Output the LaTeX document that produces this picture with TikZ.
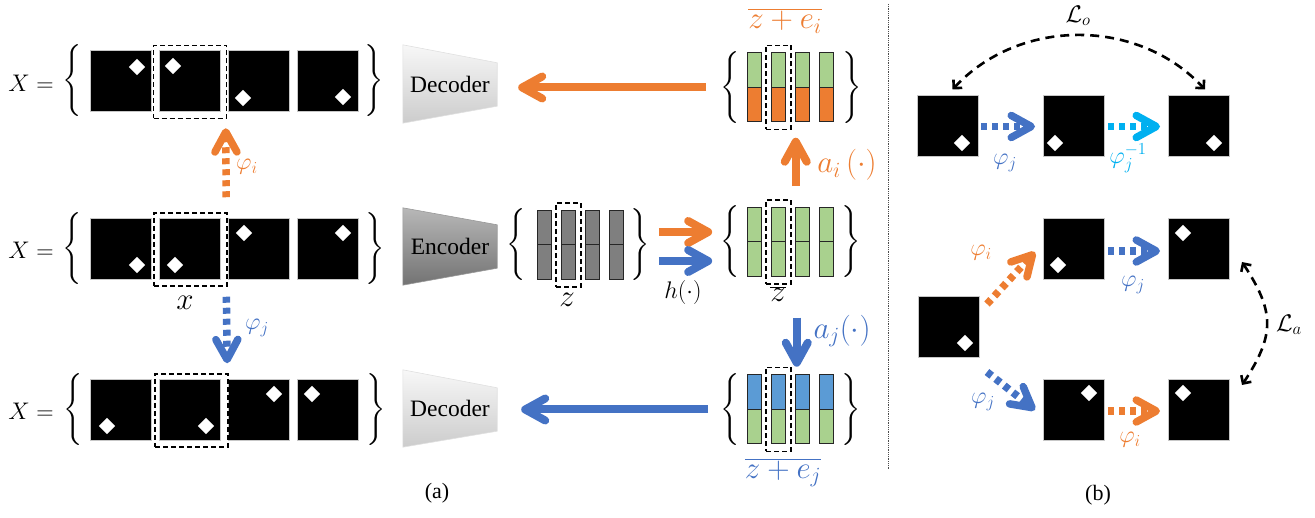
\RequirePackage{fix-cm}
\documentclass[tikz,border=0pt]{standalone}
\usepackage{graphicx}
\usepackage[no-math]{fontspec}
\newfontfamily\tnr{Liberation Serif}
\usetikzlibrary{arrows.meta,backgrounds}
\definecolor{corange}{HTML}{ED7D31}
\definecolor{cblue}{HTML}{4472C4}
\definecolor{ccyan}{HTML}{00B0F0}
\definecolor{cgreen}{HTML}{A9D18E}
\definecolor{cbarblue}{HTML}{5B9BD5}
\definecolor{cgraybar}{HTML}{7F7F7F}
\newcommand\fsm{\fontsize{24}{28}\selectfont}
\newcommand\fbg{\fontsize{31}{36}\selectfont}
\newcommand\mylbrace{\scalebox{2.4}{$\Bigg\{$}}
\newcommand\myrbrace{\scalebox{2.4}{$\Bigg\}$}}
\tikzset{
  img/.style={fill=black, draw=black!22, line width=1pt, minimum width=61pt, minimum height=61pt, inner sep=0pt},
  dia/.style={fill=white, minimum size=11.5pt, inner sep=0pt, rotate=45},
  sel/.style={draw=black, line width=1.5pt, dash pattern=on 5pt off 3pt, inner sep=0pt},
  selimg/.style={sel, minimum width=73pt, minimum height=73pt},
  selbar/.style={sel, minimum width=25pt, minimum height=84pt},
  bar/.style={draw=black!85, line width=1pt, minimum width=14pt, minimum height=34.5pt, inner sep=0pt, outer sep=0pt},
  brace/.style={inner sep=0pt, font=\normalsize},
  lbl/.style={inner sep=0pt, font=\fsm},
  lblbig/.style={inner sep=0pt, font=\fbg},
  coder/.style={inner sep=0pt, minimum width=94pt, font=\tnr\fontsize{23.5}{28}\selectfont},
  caption/.style={inner sep=0pt, font=\tnr\fontsize{22}{26}\selectfont},
  bigarrow/.style={line width=8pt, -{Straight Barb[length=20pt,width=22pt,round]}},
  dotarrow/.style={line width=7.5pt, dash pattern=on 6pt off 5pt, -{Straight Barb[length=20pt,width=22pt,round]}},
  lossarrow/.style={line width=2.6pt, dash pattern=on 9pt off 6pt, {Straight Barb[length=6pt,width=12pt]}-{Straight Barb[length=6pt,width=12pt]}},
}
\newcommand\latentgrp[5]{%
  \foreach \k/\dx in {1/-36,2/-12,3/12,4/36}{
    \node[bar, fill=#4, anchor=south] (#1t\k) at ({#2+\dx},{#3}) {};
    \node[bar, fill=#5, anchor=north] (#1b\k) at ({#2+\dx},{#3}) {};
  }
  \node[selbar] (#1sel) at ({#2-12},{#3}) {};
}
\begin{document}
\begin{tikzpicture}[x=1pt,y=-1pt]
\useasboundingbox (0,0) rectangle (1315,518);

% ---------- row 1 ----------
\node[lbl] (X1) at (31,83) {$X=$};
\node[brace] (lb1) at (72,81) {\mylbrace};
\node[img] (a1) at (121,81) {};
\node[img] (a2) at (190,81) {};
\node[img] (a3) at (259,81) {};
\node[img] (a4) at (328,81) {};
\node[dia] (a1d) at (137,67) {};
\node[dia] (a2d) at (173,66) {};
\node[dia] (a3d) at (243,98) {};
\node[dia] (a4d) at (343,97) {};
\node[brace] (rb1) at (374,81) {\myrbrace};
\node[selimg] (s1) at (190,82) {};

% ---------- row 2 ----------
\node[lbl] (X2) at (31,250) {$X=$};
\node[brace] (lb2) at (72,249) {\mylbrace};
\node[img] (b1) at (121,249) {};
\node[img] (b2) at (190,249) {};
\node[img] (b3) at (259,249) {};
\node[img] (b4) at (328,249) {};
\node[dia] (b1d) at (137,265) {};
\node[dia] (b2d) at (175,265) {};
\node[dia] (b3d) at (244,233) {};
\node[dia] (b4d) at (343,233) {};
\node[brace] (rb2) at (375,249) {\myrbrace};
\node[selimg] (s2) at (190.5,249.5) {};
\node[lblbig] (xlbl) at (185,303) {$x$};

% ---------- row 3 ----------
\node[lbl] (X3) at (31,411) {$X=$};
\node[brace] (lb3) at (73,410) {\mylbrace};
\node[img] (c1) at (121,410) {};
\node[img] (c2) at (190,410) {};
\node[img] (c3) at (259,410) {};
\node[img] (c4) at (328,410) {};
\node[dia] (c1d) at (107,426) {};
\node[dia] (c2d) at (206,426) {};
\node[dia] (c3d) at (274,394) {};
\node[dia] (c4d) at (312,394) {};
\node[brace] (rb3) at (376,410) {\myrbrace};
\node[selimg] (s3) at (191.5,410.5) {};

% vertical transformation arrows
\draw[dotarrow, corange, shorten <=15pt, shorten >=9pt] ([xshift=-1.5pt]s2.north east) -- ([xshift=-1.5pt]s1.south east);
\node[lbl, text=corange] (phiia) at (247,167) {$\varphi_i$};
\draw[dotarrow, cblue, shorten <=10pt, shorten >=10pt] ([xshift=-1.5pt]s2.south east) -- ([xshift=-1.5pt]s3.north east);
\node[lbl, text=cblue] (phija) at (257,328) {$\varphi_j$};

% ---------- encoder / decoders ----------
\node[coder, minimum height=78pt] (dec1) at (450,84) {Decoder};
\node[coder, minimum height=77pt] (enc) at (450,246.5) {Encoder};
\node[coder, minimum height=77pt] (dec2) at (450,408.5) {Decoder};
\begin{scope}[on background layer]
\shadedraw[top color=black!3, bottom color=black!20, draw=black!12, line width=0.6pt]
  (dec1.north west) -- ([yshift=-18pt]dec1.north east) -- ([yshift=17pt]dec1.south east) -- (dec1.south west) -- cycle;
\shadedraw[top color=black!28, bottom color=black!55, draw=black!40, line width=0.6pt]
  (enc.north west) -- ([yshift=-17pt]enc.north east) -- ([yshift=17pt]enc.south east) -- (enc.south west) -- cycle;
\shadedraw[top color=black!3, bottom color=black!20, draw=black!12, line width=0.6pt]
  (dec2.north west) -- ([yshift=-18pt]dec2.north east) -- ([yshift=16pt]dec2.south east) -- (dec2.south west) -- cycle;
\end{scope}

% ---------- latent codes ----------
\latentgrp{z}{580.5}{245}{cgraybar}{cgraybar}
\node[brace] (zlb) at (516,245) {\mylbrace};
\node[brace] (zrb) at (640,245) {\myrbrace};
\node[lblbig] (zlbl) at (567,300) {$z$};

\latentgrp{zb}{790.5}{242}{cgreen}{cgreen}
\node[brace] (zblb) at (730,242) {\mylbrace};
\node[brace] (zbrb) at (851,242) {\myrbrace};
\node[lblbig] (zblbl) at (778,294) {$\overline{z}$};

\latentgrp{zt}{790.5}{87.5}{cgreen}{corange}
\node[brace] (ztlb) at (730,87.5) {\mylbrace};
\node[brace] (ztrb) at (852,87.5) {\myrbrace};
\node[lblbig, text=corange] (ztlbl) at (785,21) {$\overline{z+e_i}$};

\latentgrp{zj}{790.5}{409.5}{cbarblue}{cgreen}
\node[brace] (zjlb) at (730,409.5) {\mylbrace};
\node[brace] (zjrb) at (851,409.5) {\myrbrace};
\node[lblbig, text=cblue] (zjlbl) at (783,473) {$\overline{z+e_j}$};

% h arrows
\draw[bigarrow, corange, shorten <=9pt, shorten >=8pt] ([yshift=13pt]zrb.east) -- ([yshift=10pt]zblb.west);
\draw[bigarrow, cblue, shorten <=9pt, shorten >=8pt] ([yshift=-16pt]zrb.east) -- ([yshift=-19pt]zblb.west);
\node[lbl] (hlbl) at (683,293) {$h(\cdot)$};

% a_i, a_j arrows
\draw[bigarrow, corange, shorten <=13pt, shorten >=7.5pt] ([xshift=4pt]zbsel.north east) -- ([xshift=4pt]ztsel.south east);
\node[lblbig, text=corange] (ailbl) at (847,165) {$a_i\left(\cdot\right)$};
\draw[bigarrow, cblue, shorten <=33pt, shorten >=0pt] ([xshift=5pt]zbsel.south east) -- ([xshift=5pt]zjsel.north east);
\node[lblbig, text=cblue] (ajlbl) at (842,331) {$a_j(\cdot)$};

% decoder arrows
\draw[bigarrow, corange, shorten <=14pt, shorten >=21pt] (ztlb.west) -- ([yshift=-3.5pt]dec1.east);
\draw[bigarrow, cblue, shorten <=12pt, shorten >=24pt] (zjlb.west) -- ([yshift=-1pt]dec2.east);

% separator
\draw[densely dotted, black!70, line width=0.8pt] (888,4) -- (888,470);

% ---------- panel (b) ----------
\node[img] (ro1) at (947.5,126.5) {};
\node[img] (ro2) at (1074,126.5) {};
\node[img] (ro3) at (1199,126.5) {};
\node[dia] (ro1d) at (962,143) {};
\node[dia] (ro2d) at (1055,143) {};
\node[dia] (ro3d) at (1214,143) {};
\draw[dotarrow, cblue, shorten <=2.5pt, shorten >=8pt] (ro1.east) -- (ro2.west);
\draw[dotarrow, ccyan, shorten <=3pt, shorten >=8pt] (ro2.east) -- (ro3.west);
\node[lbl, text=cblue] (phijo) at (1005,163) {$\varphi_j$};
\node[lbl, text=ccyan] (phijinv) at (1128,158) {$\varphi_j^{-1}$};
\draw[lossarrow] ([xshift=5pt,yshift=6pt]ro1.north) .. controls +(67,-72) and +(-67,-72) .. ([xshift=6pt,yshift=6pt]ro3.north);
\node[lbl] (Lo) at (1078,16) {$\mathcal{L}_o$};

\node[img] (rl) at (949,327) {};
\node[img] (rtm) at (1074,249) {};
\node[img] (rtr) at (1199,249) {};
\node[img] (rbm) at (1074,410) {};
\node[img] (rbr) at (1199,410) {};
\node[dia] (rld) at (965,343) {};
\node[dia] (rtmd) at (1058,265) {};
\node[dia] (rtrd) at (1183,233) {};
\node[dia] (rbmd) at (1089,393) {};
\node[dia] (rbrd) at (1183,393) {};
\draw[dotarrow, corange] ([xshift=7pt,yshift=-8pt]rl.north east) -- ([xshift=-8pt,yshift=-3pt]rtm.west);
\node[lbl, text=corange] (phiib1) at (981,253) {$\varphi_i$};
\draw[dotarrow, cblue] ([xshift=7pt,yshift=-14pt]rl.south east) -- ([xshift=-8pt]rbm.west);
\node[lbl, text=cblue] (phijb1) at (983,402) {$\varphi_j$};
\draw[dotarrow, cblue, shorten <=3pt, shorten >=8pt] ([yshift=-2pt]rtm.east) -- ([yshift=-2pt]rtr.west);
\node[lbl, text=cblue] (phijb2) at (1133,285) {$\varphi_j$};
\draw[dotarrow, corange, shorten <=3pt, shorten >=8pt] ([yshift=-1pt]rbm.east) -- ([yshift=-1pt]rbr.west);
\node[lbl, text=corange] (phiib2) at (1130,440) {$\varphi_i$};
\draw[lossarrow] ([xshift=12pt,yshift=-13pt]rtr.east) .. controls +(33,50) and +(33,-50) .. ([xshift=12pt,yshift=25pt]rbr.east);
\node[lbl] (La) at (1289,325) {$\mathcal{L}_a$};

% captions
\node[caption] (capa) at (437,493) {(a)};
\node[caption] (capb) at (1098,495) {(b)};
\end{tikzpicture}
\end{document}
